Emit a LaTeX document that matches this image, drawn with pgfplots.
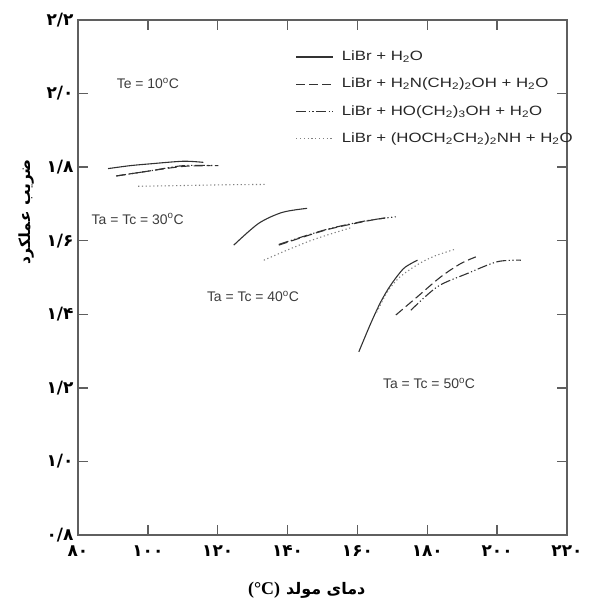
\documentclass[border=0pt]{standalone}
\usepackage{fontspec}
\usepackage{pgfplots}
\pgfplotsset{compat=1.18}
\setmainfont{Liberation Sans}
\newfontfamily\arabicfont[Script=Arabic]{DejaVu Sans}
\newfontfamily\legfont[FakeStretch=1.25]{Liberation Sans}
\newfontfamily\serifb{Liberation Serif}
\TeXXeTstate=1
\definecolor{axgray}{RGB}{95,95,95}
\definecolor{lncol}{RGB}{50,50,50}
\definecolor{txtgray}{RGB}{60,60,60}
\begin{document}
\begin{tikzpicture}
\begin{axis}[
  at={(0,0)}, anchor=south west,
  scale only axis, width=489bp, height=515bp,
  xmin=80, xmax=220, ymin=0.8, ymax=2.2,
  xtick={80,100,120,140,160,180,200,220},
  xticklabels={۸۰,۱۰۰,۱۲۰,۱۴۰,۱۶۰,۱۸۰,۲۰۰,۲۲۰},
  ytick={0.8,1.0,1.2,1.4,1.6,1.8,2.0,2.2},
  yticklabels={۰/۸,۱/۰,۱/۲,۱/۴,۱/۶,۱/۸,۲/۰,۲/۲},
  tick align=inside, major tick length=10bp,
  axis line style={axgray, line width=2.5bp},
  every tick/.style={axgray, line width=1.3bp},
  ticklabel style={font=\arabicfont\bfseries\fontsize{17}{17}\selectfont, text=black},
  xticklabel style={yshift=-7bp},
  yticklabel style={xshift=-1bp},
  ylabel={\arabicfont\bfseries\fontsize{15.5}{15.5}\selectfont\beginR ضریب عملکرد\endR},
  ylabel style={at={(axis description cs:-0.1063,0.627)}, anchor=center},
  xlabel={{\serifb\bfseries\fontsize{18}{18}\selectfont (°C)}\hspace{6bp}{\arabicfont\bfseries\fontsize{16}{16}\selectfont\beginR دمای مولد\endR}},
  xlabel style={at={(axis description cs:0.4677,-0.1068)}, anchor=center},
  legend image code/.code={\draw[#1] (0bp,0bp) -- (37bp,0bp);},
  legend cell align=left,
  legend style={at={(axis cs:141.4,2.123)}, anchor=north west, draw=none, fill=none,
    font=\legfont\fontsize{13.5}{14}\selectfont, text=black!85,
    row sep=14.3bp, column sep=8bp,
    nodes={inner sep=0pt, text height=10bp, text depth=3bp}},
  every axis plot/.append style={smooth, tension=0.5},
  clip=false,
]
% ---- Ta = Tc = 30 C
\addplot[lncol, line width=1.1bp] coordinates {(88.6,1.796) (94.9,1.804) (100.7,1.809) (110.1,1.816) (115.9,1.813)};
\addplot[lncol, line width=1.1bp, dash pattern=on 9bp off 4bp] coordinates {(91.0,1.776) (100.7,1.790) (110.1,1.802) (118.0,1.804)};
\addplot[lncol, line width=1.1bp, dash pattern=on 10bp off 2.5bp on 1.2bp off 2.5bp on 1.2bp off 2.5bp] coordinates {(90.9,1.776) (100.7,1.790) (110.1,1.804) (120.2,1.804)};
\addplot[gray, line width=1.1bp, dash pattern=on 1.2bp off 2.6bp] coordinates {(97.2,1.748) (110.0,1.750) (122.0,1.752) (133.5,1.753)};
% ---- Ta = Tc = 40 C
\addplot[lncol, line width=1.1bp, forget plot] coordinates {(124.6,1.588) (131.7,1.647) (138.5,1.677) (145.6,1.688)};
\addplot[lncol, line width=1.1bp, dash pattern=on 9bp off 4bp, forget plot] coordinates {(137.5,1.588) (150.9,1.629) (162.4,1.653) (168.0,1.662)};
\addplot[lncol, line width=1.1bp, dash pattern=on 10bp off 2.5bp on 1.2bp off 2.5bp on 1.2bp off 2.5bp, forget plot] coordinates {(137.5,1.590) (150.9,1.630) (162.4,1.654) (171.0,1.665)};
\addplot[gray, line width=1.1bp, dash pattern=on 1.2bp off 2.6bp, forget plot] coordinates {(133.2,1.547) (140.0,1.575) (148.0,1.605) (158.0,1.635)};
% ---- Ta = Tc = 50 C
\addplot[lncol, line width=1.1bp, forget plot] coordinates {(160.4,1.298) (163.8,1.375) (166.7,1.434) (169.5,1.479) (173.3,1.525) (177.2,1.547)};
\addplot[lncol, line width=1.1bp, dash pattern=on 9bp off 4bp, forget plot] coordinates {(171.0,1.398) (177.2,1.448) (183.9,1.502) (189.6,1.538) (193.9,1.556)};
\addplot[lncol, line width=1.1bp, dash pattern=on 10bp off 2.5bp on 1.2bp off 2.5bp on 1.2bp off 2.5bp, forget plot] coordinates {(175.3,1.411) (182.9,1.475) (191.5,1.511) (200.1,1.543) (206.8,1.547)};
\addplot[gray, line width=1.1bp, dash pattern=on 1.2bp off 2.6bp, forget plot] coordinates {(165.5,1.405) (168.5,1.460) (172.0,1.500) (177.2,1.535) (182.0,1.558) (187.7,1.576)};
\legend{LiBr + H\textsubscript{2}O,
  LiBr + H\textsubscript{2}N(CH\textsubscript{2})\textsubscript{2}OH + H\textsubscript{2}O,
  LiBr + HO(CH\textsubscript{2})\textsubscript{3}OH + H\textsubscript{2}O,
  LiBr + (HOCH\textsubscript{2}CH\textsubscript{2})\textsubscript{2}NH + H\textsubscript{2}O}
\node[text=txtgray, font=\fontsize{14}{14}\selectfont] at (axis cs:100.0,2.027) {Te = 10\textsuperscript{o}C};
\node[text=txtgray, font=\fontsize{14}{14}\selectfont] at (axis cs:97.1,1.659) {Ta = Tc = 30\textsuperscript{o}C};
\node[text=txtgray, font=\fontsize{14}{14}\selectfont] at (axis cs:130.1,1.448) {Ta = Tc = 40\textsuperscript{o}C};
\node[text=txtgray, font=\fontsize{14}{14}\selectfont] at (axis cs:180.5,1.212) {Ta = Tc = 50\textsuperscript{o}C};
\end{axis}
\pgfresetboundingbox
\path[use as bounding box] (-78bp,-68bp) rectangle (534bp,535bp);
\end{tikzpicture}
\end{document}
